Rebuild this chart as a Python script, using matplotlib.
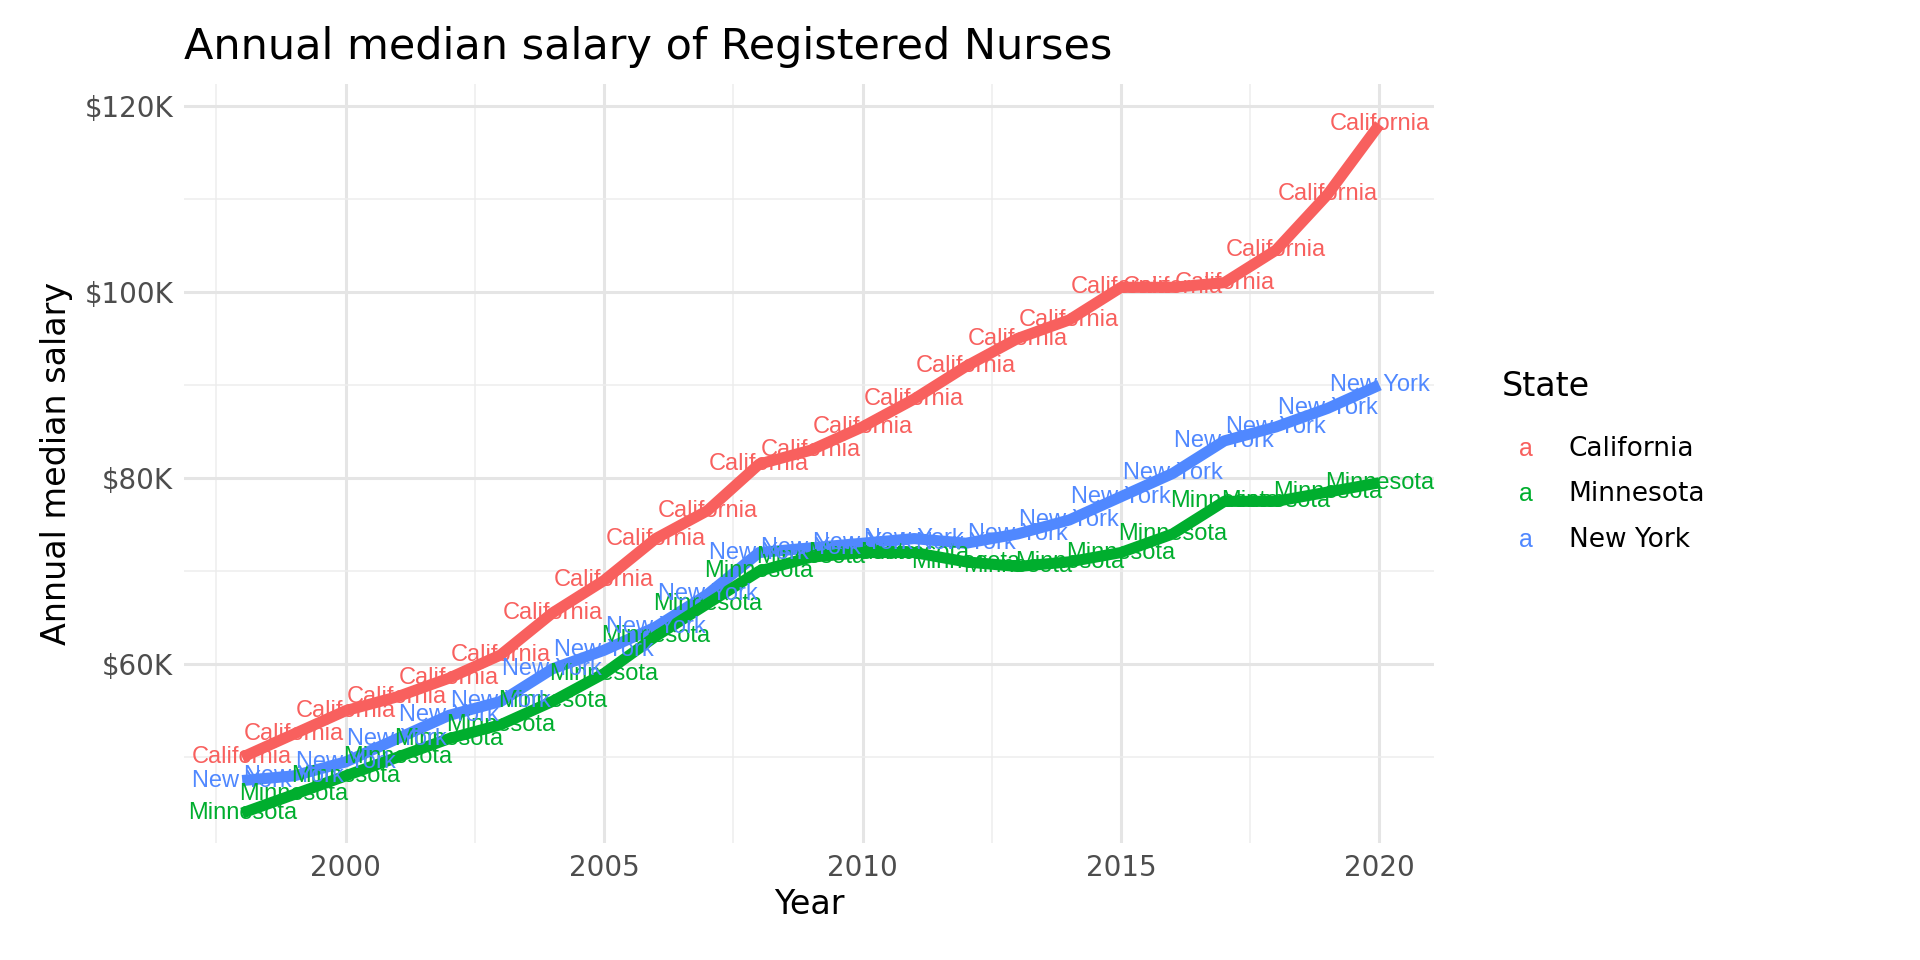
import matplotlib
matplotlib.use("Agg")
import matplotlib.pyplot as plt
from matplotlib.ticker import FixedLocator

years = list(range(1998, 2021))
states = ["California", "Minnesota", "New York"]
california = [50, 52.5, 55, 56.5, 58.5, 61, 65.5, 69, 73.5, 76.5, 81.5, 83, 85.5, 88.5, 92, 95, 97, 100.5, 100.5, 101, 104.5, 110.5, 118]
minnesota = [44, 46, 48, 50, 52, 53.5, 56, 59, 63, 66.5, 70, 71.5, 72, 72, 71, 70.5, 71, 72, 74, 77.5, 77.5, 78.5, 79.5]
new_york = [47.5, 48, 49.5, 52, 54.5, 56, 59.5, 61.5, 64, 67.5, 72, 72.5, 73, 73.5, 73, 74, 75.5, 78, 80.5, 84, 85.5, 87.5, 90]
colors = {"California": "#F8605E", "Minnesota": "#00AE2E", "New York": "#5088FF"}
series = {"California": california, "Minnesota": minnesota, "New York": new_york}

fig = plt.figure(figsize=(19.2, 9.6), dpi=100)
ax = fig.add_axes([0.096, 0.122, 0.651, 0.791])
for s in ["California", "New York", "Minnesota"]:
    ax.plot(years, series[s], color=colors[s], lw=8, solid_capstyle="butt", zorder=2)
for s in states:
    for x, y in zip(years, series[s]):
        ax.text(x, y, s, color=colors[s], fontsize=17, ha="center", va="center",
                family="Liberation Sans", zorder=3)

ax.set_xlim(1996.88, 2021.06)
ax.set_ylim(40.8, 122.4)
ax.xaxis.set_major_locator(FixedLocator([2000, 2005, 2010, 2015, 2020]))
ax.xaxis.set_minor_locator(FixedLocator([1997.5, 2002.5, 2007.5, 2012.5, 2017.5]))
ax.yaxis.set_major_locator(FixedLocator([60, 80, 100, 120]))
ax.yaxis.set_minor_locator(FixedLocator([50, 70, 90, 110]))
ax.set_yticklabels(["$60K", "$80K", "$100K", "$120K"])
ax.grid(which="major", color="#E5E5E5", lw=2.2)
ax.grid(which="minor", color="#EDEDED", lw=1.1)
ax.set_axisbelow(True)
for sp in ax.spines.values():
    sp.set_visible(False)
ax.tick_params(which="both", length=0, labelsize=20, colors="#4D4D4D", pad=8)
ax.set_xlabel("Year", fontsize=24, labelpad=4)
ax.set_ylabel("Annual median salary", fontsize=24, labelpad=8)
ax.set_title("Annual median salary of Registered Nurses", fontsize=31, loc="left", x=0.0, pad=18)

fig.text(0.782, 0.597, "State", fontsize=24, va="center")
for i, s in enumerate(states):
    yy = 0.532 - 0.047 * i
    fig.text(0.795, yy, "a", color=colors[s], fontsize=18, ha="center", va="center", family="Liberation Sans")
    fig.text(0.817, yy, s, fontsize=19, va="center")

fig.savefig("out.png", dpi=100)
